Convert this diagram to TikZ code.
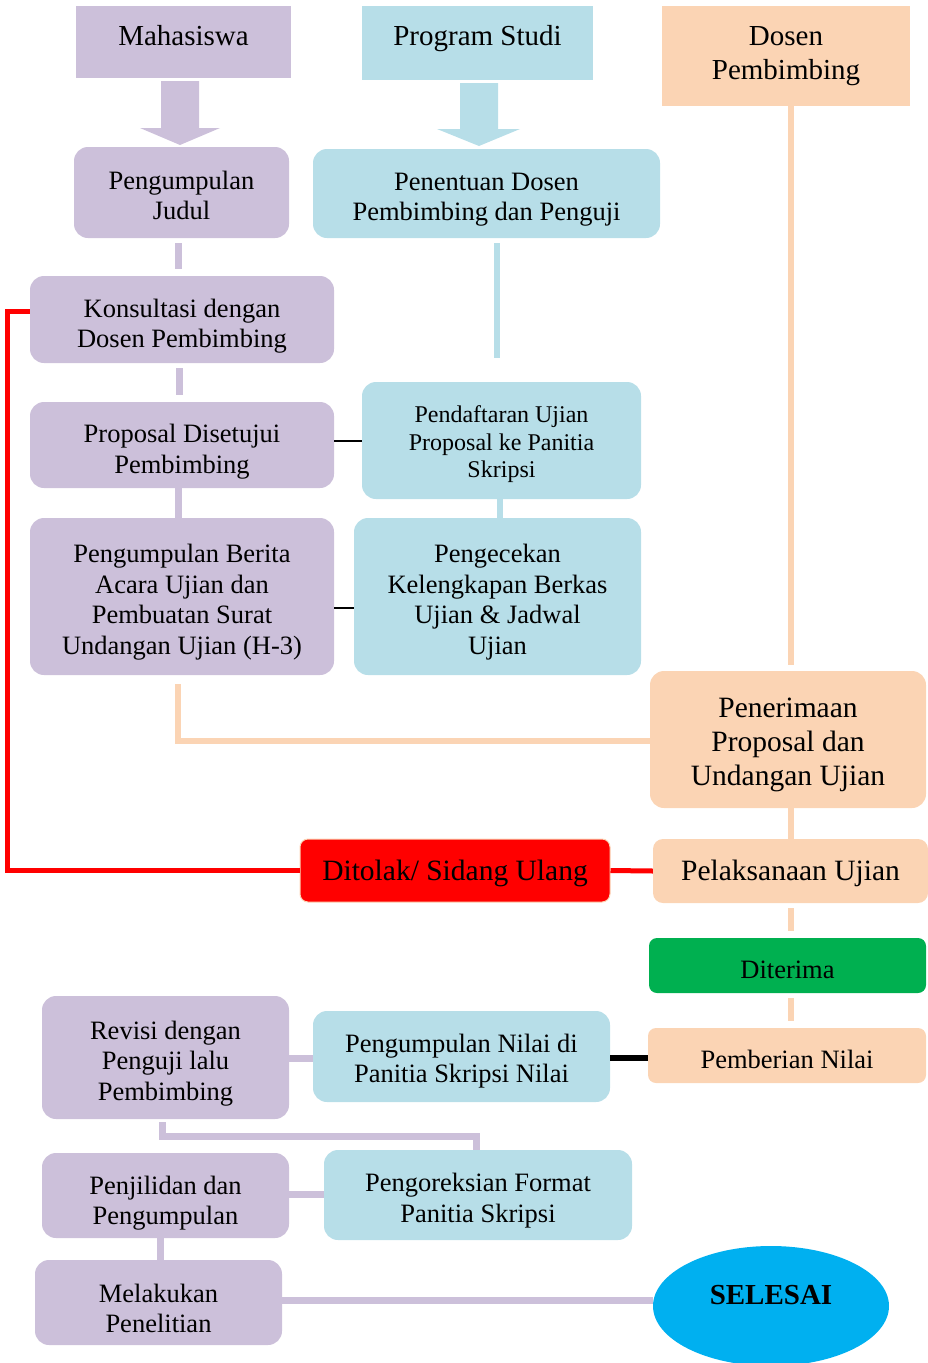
\documentclass[tikz,border=0pt]{standalone}
\usepackage{fontspec}
\setmainfont{Liberation Serif}
\usetikzlibrary{shapes.geometric,calc}
\definecolor{lav}{HTML}{CCC0DA}
\definecolor{lblue}{HTML}{B7DEE8}
\definecolor{peach}{HTML}{FBD4B4}
\definecolor{rred}{HTML}{FF0000}
\definecolor{ggreen}{HTML}{00B050}
\definecolor{cyanb}{HTML}{00B0F0}
\newcommand{\boxtxt}[2][-5pt]{\raisebox{#1}[\height][\depth]{\begin{tabular}{@{}c@{}}#2\end{tabular}}}
\begin{document}
\begin{tikzpicture}[x=1pt,y=-1pt,
  hdr/.style={rectangle, align=center, inner sep=2pt, font=\fontsize{29}{34}\selectfont},
  box/.style={rectangle, rounded corners=14pt, align=center, inner sep=2pt, font=\fontsize{26.5}{30.5}\selectfont},
  lavbox/.style={box, fill=lav},
  bluebox/.style={box, fill=lblue},
  peachbox/.style={box, fill=peach},
  lavline/.style={draw=lav, line width=7pt},
  blueline/.style={draw=lblue, line width=6pt},
  peachline/.style={draw=peach, line width=6pt},
  redline/.style={draw=rred, line width=5pt},
  gap/.style={shorten <=5pt, shorten >=7pt}
]
\useasboundingbox (0,0) rectangle (928,1363);

% headers
\node[hdr, fill=lav, minimum width=215pt, minimum height=72pt] (mhs) at (183.5,42) {\boxtxt[3pt]{Mahasiswa}};
\node[hdr, fill=lblue, minimum width=231pt, minimum height=74pt] (prodi) at (477.5,43) {\boxtxt[4pt]{Program Studi}};
\node[hdr, fill=peach, minimum width=248pt, minimum height=100pt] (dosen) at (786,56) {\boxtxt[0pt]{Dosen\\Pembimbing}};

% block arrows
\fill[lav] (161,81) -- (199,81) -- (199,128) -- (220,128) -- (180,145) -- (140,128) -- (161,128) -- cycle;
\fill[lblue] (460,83) -- (498,83) -- (498,129) -- (520,129) -- (479,146) -- (437,129) -- (460,129) -- cycle;

% boxes
\node[lavbox, minimum width=215pt, minimum height=91pt] (judul) at (181.5,192.5) {\boxtxt[-6pt]{Pengumpulan\\Judul}};
\node[bluebox, minimum width=347pt, minimum height=89pt] (tentu) at (486.5,193.5) {\boxtxt[-6pt]{Penentuan Dosen\\Pembimbing dan Penguji}};
\node[lavbox, minimum width=304pt, minimum height=87pt] (konsul) at (182,319.5) {\boxtxt[-7pt]{Konsultasi dengan\\Dosen Pembimbing}};
\node[lavbox, minimum width=304pt, minimum height=86pt] (prop) at (182,445) {\boxtxt[-7pt]{Proposal Disetujui\\Pembimbing}};
\node[bluebox, minimum width=279pt, minimum height=117pt, font=\fontsize{24}{27.5}\selectfont] (daftar) at (501.5,440.5) {\boxtxt[-4pt]{Pendaftaran Ujian\\Proposal ke Panitia\\Skripsi}};
\node[lavbox, minimum width=304pt, minimum height=157pt] (berita) at (182,596.5) {\boxtxt[-6pt]{Pengumpulan Berita\\Acara Ujian dan\\Pembuatan Surat\\Undangan Ujian (H-3)}};
\node[bluebox, minimum width=287pt, minimum height=157pt] (cek) at (497.5,596.5) {\boxtxt[-6pt]{Pengecekan\\Kelengkapan Berkas\\Ujian \& Jadwal\\Ujian}};
\node[peachbox, minimum width=276pt, minimum height=137pt, font=\fontsize{29.5}{34}\selectfont] (terima) at (788,739.5) {\boxtxt[-5pt]{Penerimaan\\Proposal dan\\Undangan Ujian}};
\node[peachbox, minimum width=275pt, minimum height=64pt, rounded corners=10pt, font=\fontsize{29.5}{32}\selectfont] (pelak) at (790.5,871) {\boxtxt[-3pt]{Pelaksanaan Ujian}};
\node[box, fill=rred, draw=peach, line width=1pt, minimum width=310pt, minimum height=63pt, rounded corners=8pt, font=\fontsize{29.5}{32}\selectfont] (tolak) at (455,870.5) {\boxtxt[-4pt]{Ditolak/ Sidang Ulang}};
\node[box, fill=ggreen, minimum width=277pt, minimum height=55pt, rounded corners=8pt, font=\fontsize{26.5}{28}\selectfont] (dtr) at (787.5,965.5) {\boxtxt[-7pt]{Diterima}};
\node[peachbox, minimum width=278pt, minimum height=55pt, rounded corners=8pt, font=\fontsize{26.5}{28}\selectfont] (nilai) at (787,1055.5) {\boxtxt[-7pt]{Pemberian Nilai}};
\node[bluebox, minimum width=297pt, minimum height=91pt] (kumpul) at (461.5,1056.5) {\boxtxt[-5pt]{Pengumpulan Nilai di\\Panitia Skripsi Nilai}};
\node[lavbox, minimum width=247pt, minimum height=123pt] (revisi) at (165.5,1057.5) {\boxtxt[-6pt]{Revisi dengan\\Penguji lalu\\Pembimbing}};
\node[bluebox, minimum width=308pt, minimum height=90pt] (koreksi) at (478,1195) {\boxtxt[-6pt]{Pengoreksian Format\\Panitia Skripsi}};
\node[lavbox, minimum width=247pt, minimum height=85pt] (jilid) at (165.5,1195.5) {\boxtxt[-8pt]{Penjilidan dan\\Pengumpulan}};
\node[lavbox, minimum width=247pt, minimum height=85pt] (teliti) at (158.5,1302.5) {\boxtxt[-9pt]{Melakukan\\Penelitian}};
\node[ellipse, fill=cyanb, inner sep=0pt, minimum width=236pt, minimum height=120pt, font=\fontsize{29}{32}\selectfont\bfseries] (selesai) at (771,1306) {\boxtxt[8pt]{SELESAI}};

% coordinates for free ends / bends
\coordinate (b1) at (497,243);
\coordinate (b2) at (497,358);
\coordinate (o1) at (178,684);
\coordinate (o2) at (178,741);
\coordinate (r1) at (7,870.5);
\coordinate (r2) at (7,311);
\coordinate (l1) at (162,1122);
\coordinate (l2) at (162,1136);
\coordinate (l3) at (476,1136);

% connectors
\draw[lavline, gap] (judul.south -| 178,0) -- (konsul.north -| 178,0);
\draw[lavline, gap] (konsul.south -| 179,0) -- (prop.north -| 179,0);
\draw[lavline] (prop.south -| 178,0) -- (berita.north -| 178,0);
\draw[blueline] (b1) -- (b2);
\draw[blueline] (daftar.south -| 500,0) -- (cek.north -| 500,0);
\draw[peachline] (dosen.south -| 791,0) -- ($(terima.north -| 791,0)+(0,-6)$);
\draw[black, line width=2pt] (prop.east |- 0,441) -- (daftar.west |- 0,441);
\draw[black, line width=2pt] (berita.east |- 0,608) -- (cek.west |- 0,608);
\draw[peachline] (o1) -- (o2) -- (terima.west |- o2);
\draw[peachline] (terima.south -| 791,0) -- (pelak.north -| 791,0);
\draw[redline] (tolak.east) -- (pelak.west);
\draw[redline] (tolak.west) -- (r1) -- (r2) -- (konsul.west |- r2);
\draw[peachline, gap] (pelak.south -| 791,0) -- (dtr.north -| 791,0);
\draw[peachline, gap] (dtr.south -| 791,0) -- (nilai.north -| 791,0);
\draw[black, line width=6pt] (kumpul.east |- 0,1058) -- (nilai.west |- 0,1058);
\draw[lavline] (revisi.east |- 0,1058) -- (kumpul.west |- 0,1058);
\draw[lavline] (l1) -- (l2) -- (l3) -- (koreksi.north -| l3);
\draw[lavline] (jilid.east |- 0,1194) -- (koreksi.west |- 0,1194);
\draw[lavline] (jilid.south -| 160,0) -- (teliti.north -| 160,0);
\draw[lavline] (teliti.east |- 0,1300) -- (selesai.west |- 0,1300);
\end{tikzpicture}
\end{document}
